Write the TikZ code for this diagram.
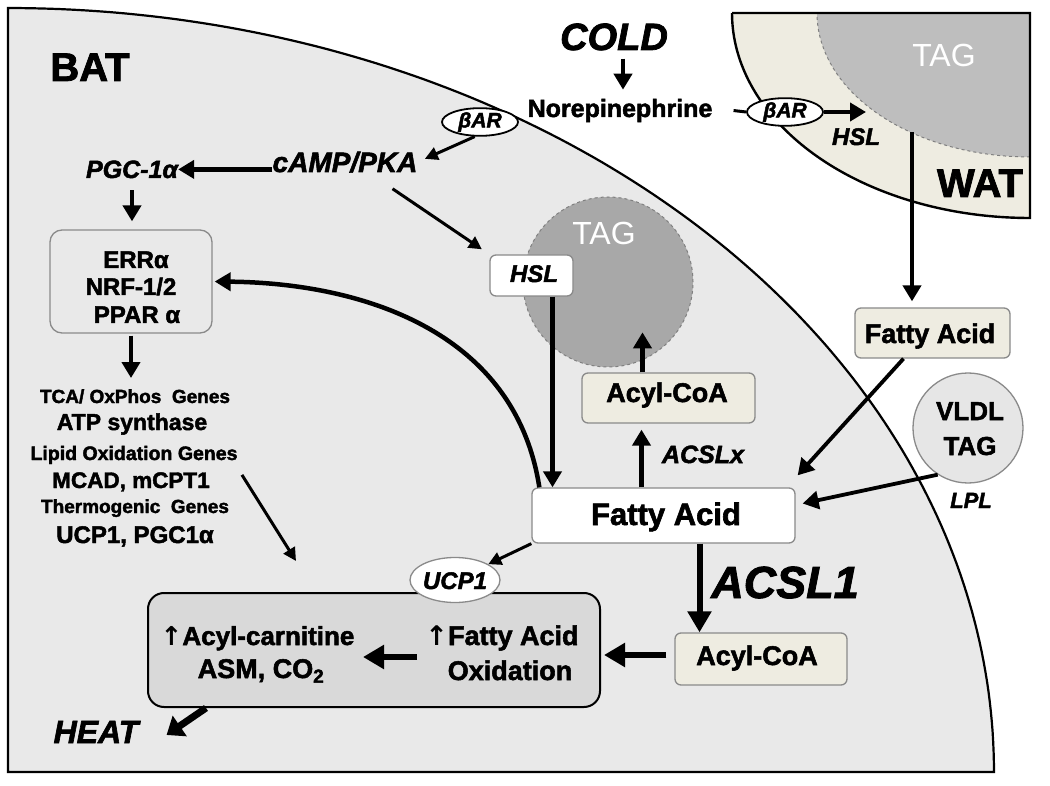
\documentclass[tikz,border=0pt]{standalone}
\usepackage{fontspec}
\setmainfont{Liberation Sans}[BoldFeatures={FakeBold=2},BoldItalicFeatures={FakeBold=2}]
\newfontfamily\dejavu{DejaVu Sans}
\usetikzlibrary{arrows.meta,shapes.geometric}
\newcommand\fsz[1]{\fontsize{#1}{#1}\selectfont}
\newcommand\uparr{{\dejavu\bfseries ↑}}
\definecolor{batbg}{HTML}{E9E9E9}
\definecolor{beige}{HTML}{EEECE1}
\definecolor{tagdark}{HTML}{A8A8A8}
\definecolor{taglight}{HTML}{BEBEBE}
\definecolor{boxedge}{HTML}{8A8A8A}
\definecolor{oxfill}{HTML}{D9D9D9}
\definecolor{vldlfill}{HTML}{E6E6E6}
\begin{document}
\begin{tikzpicture}[x=1pt,y=-1pt,
  lbl/.style={inner sep=0pt,anchor=base,font=\bfseries\fsz{24}},
  tagtxt/.style={inner sep=0pt,anchor=base,text=white,font=\fsz{32}},
  recep/.style={ellipse,draw=black,line width=1.8pt,fill=white,inner sep=0pt,minimum width=76pt,minimum height=26pt,font=\bfseries\itshape\fsz{21}},
  wbox/.style={rounded corners=6pt,draw=boxedge,line width=1.3pt,fill=white,inner sep=0pt},
  bbox/.style={rounded corners=6pt,draw=boxedge,line width=1.3pt,fill=beige,inner sep=0pt},
  gbox/.style={rounded corners=12pt,draw=boxedge,line width=1.3pt,fill=batbg,inner sep=0pt},
  oxbox/.style={rounded corners=16pt,draw=black,line width=2pt,fill=oxfill,inner sep=0pt},
  arrK/.style={line width=4.5pt,-{Triangle[length=16pt,width=18pt]}},
  arrB/.style={line width=6pt,-{Triangle[length=21pt,width=23pt]}},
  arrT/.style={line width=3pt,-{Triangle[length=13pt,width=13pt]}}
]
\useasboundingbox (0,0) rectangle (1050,786);
\fill[white] (0,0) rectangle (1050,786);

% BAT cell
\filldraw[fill=batbg,draw=black,line width=2.2pt] (8,772) -- (8,8) -- plot[domain=270:360,samples=120] ({8+986*cos(\x)},{772+764*sin(\x)}) -- cycle;

% WAT cell
\fill[beige] (732,13) -- (1030,13) -- (1030,218) -- plot[domain=90:180,samples=80] ({1030+298*cos(\x)},{13+205*sin(\x)}) -- cycle;
\fill[taglight] (817,13) -- (1030,13) -- (1030,157) -- plot[domain=90:180,samples=80] ({1030+213*cos(\x)},{13+144*sin(\x)}) -- cycle;
\draw[dashed,gray,line width=1pt] plot[domain=90:180,samples=80] ({1030+213*cos(\x)},{13+144*sin(\x)});
\draw[black,line width=2.4pt] (732,13) -- (1030,13) -- (1030,218) -- plot[domain=90:180,samples=80] ({1030+298*cos(\x)},{13+205*sin(\x)});

% labels top
\node[lbl,font=\bfseries\fsz{40}] (bat) at (90,81) {BAT};
\node[lbl,font=\bfseries\itshape\fsz{38}] (cold) at (614,50) {COLD};
\node[lbl,font=\bfseries\fsz{25}] (nor) at (620,117) {Norepinephrine};
\node[recep] (bar2) at (785,112) {βAR};
\coordinate (whsl) at (866,112);
\node[lbl,font=\bfseries\itshape\fsz{24}] (hslw) at (856,145) {HSL};
\node[tagtxt] (tagw) at (944,67) {TAG};
\node[lbl,font=\bfseries\fsz{40}] (wat) at (980,197) {WAT};
\node[recep] (bar1) at (480,122) {βAR};
\node[lbl,font=\bfseries\itshape\fsz{28}] (camp) at (345,172) {cAMP/PKA};
\node[lbl,font=\bfseries\itshape\fsz{25}] (pgc) at (132,178) {PGC-1α};

% ERR box
\node[gbox,minimum width=162pt,minimum height=103pt] (err) at (131,281.5) {};
\node[lbl] (err1) at (136,268) {ERRα};
\node[lbl] (err2) at (131,295) {NRF-1/2};
\node[lbl] (err3) at (137,323) {PPAR α};

% gene list
\node[lbl,font=\bfseries\fsz{19}] (g1) at (135,403) {TCA/ OxPhos~~Genes};
\node[lbl,font=\bfseries\fsz{23}] (g2) at (132,430) {ATP synthase};
\node[lbl,font=\bfseries\fsz{19.5}] (g3) at (134,460) {Lipid Oxidation Genes};
\node[lbl,font=\bfseries\fsz{22.5}] (g4) at (131,488) {MCAD, mCPT1};
\node[lbl,font=\bfseries\fsz{19}] (g5) at (135,513) {Thermogenic~~Genes};
\node[lbl,font=\bfseries\fsz{24}] (g6) at (135,543) {UCP1, PGC1α};

% lipid droplet
\node[circle,fill=tagdark,draw=gray,dashed,line width=1pt,minimum size=170pt,inner sep=0pt] (tagc) at (608,282) {};
\node[tagtxt] (tagb) at (604,245) {TAG};
\node[wbox,minimum width=83pt,minimum height=41pt] (hslb) at (531.5,275.5) {};
\node[lbl,font=\bfseries\itshape\fsz{24}] (hslt) at (534,282) {HSL};
\node[bbox,minimum width=173pt,minimum height=50pt] (acu) at (668.5,398) {};
\node[lbl,font=\bfseries\fsz{27}] (acut) at (667,402) {Acyl-CoA};
\node[lbl,font=\bfseries\itshape\fsz{25}] (acslx) at (703,463) {ACSLx};

% fatty acid
\node[wbox,minimum width=263pt,minimum height=55pt] (fa) at (663.5,515.5) {};
\node[lbl,font=\bfseries\fsz{31}] (fat) at (666,525) {Fatty Acid};
\node[bbox,minimum width=155pt,minimum height=50pt] (far) at (932.5,333) {};
\node[lbl,font=\bfseries\fsz{27}] (fart) at (930,343) {Fatty Acid};
\node[circle,fill=vldlfill,draw=boxedge,line width=1.3pt,minimum size=110pt,inner sep=0pt] (vldl) at (968,428) {};
\node[lbl,font=\bfseries\fsz{26}] (vl1) at (970,420) {VLDL};
\node[lbl,font=\bfseries\fsz{26}] (vl2) at (970,455) {TAG};
\node[lbl,font=\bfseries\itshape\fsz{22}] (lpl) at (971,508) {LPL};
\node[lbl,font=\bfseries\itshape\fsz{45}] (acsl1) at (785,598) {ACSL1};
\node[bbox,minimum width=172pt,minimum height=52pt] (acl) at (761,659) {};
\node[lbl,font=\bfseries\fsz{27}] (aclt) at (757,665) {Acyl-CoA};

% oxidation box
\node[oxbox,minimum width=452pt,minimum height=114pt] (ox) at (374,650) {};
\node[lbl,font=\bfseries\fsz{26}] (acyl) at (257.5,645) {\uparr Acyl-carnitine};
\node[lbl,font=\bfseries\fsz{27}] (asm) at (261,678) {ASM, CO\textsubscript{2}};
\node[lbl,font=\bfseries\fsz{27}] (fao) at (502,645) {\uparr Fatty Acid};
\node[lbl,font=\bfseries\fsz{27}] (oxi) at (510,680) {Oxidation};
\node[ellipse,fill=white,draw=boxedge,line width=1.3pt,minimum width=90pt,minimum height=45pt,inner sep=0pt] (ucp) at (455,580) {};
\node[lbl,font=\bfseries\itshape\fsz{24}] (ucpt) at (455,589) {UCP1};
\node[lbl,font=\bfseries\itshape\fsz{32}] (heat) at (96,743) {HEAT};
\coordinate (oxa) at (417,657);
\coordinate (watsrc) at (912,132);

% connectors
\draw[arrK,shorten <=8pt,shorten >=9pt] ([xshift=9pt]cold.south) -- ([xshift=3pt]nor.north);
\draw[line width=3pt] ([xshift=21pt]nor.east) -- (bar2.west);
\draw[arrK] (bar2.east) -- (whsl);
\draw[arrT,shorten >=8pt] (bar1.250) -- (camp.east);
\draw[arrK] (camp.west |- pgc.east) -- (pgc.east);
\draw[arrK,shorten <=12pt,shorten >=8pt] (pgc.south) -- (pgc.south |- err.north);
\draw[arrK,shorten <=2pt,shorten >=11pt] (err.south) -- (err.south |- g1.north);
\draw[arrT] ([shift={(32,-7)}]g4.east) -- ([shift={(149,-31)}]ox.north west);
\draw[arrT,shorten >=9pt] ([shift={(-25,16)}]camp.south east) -- (hslb.north west);
\draw[arrK] ([xshift=21pt]hslb.south) -- ([xshift=21pt]hslb.south |- fa.north);
\draw[arrK,shorten >=2pt] ([xshift=8pt]fa.north west) .. controls (515,330) and (360,283) .. (err.east);
\draw[arrK,shorten >=6pt] ([xshift=-22pt]fa.north) -- ([xshift=-22pt]fa.north |- acu.south);
\draw[arrK] ([xshift=-26pt]acu.north) -- ++(0,-40);
\draw[arrK,shorten >=6pt] (watsrc) -- (watsrc |- far.north);
\draw[arrK,line width=3.8pt] ([xshift=-29pt]far.south) -- ([shift={(2,-12)}]fa.north east);
\draw[arrK,line width=3.8pt] (vldl.237) -- ([shift={(7,-12)}]fa.east);
\draw[arrB] ([xshift=36pt]fa.south) -- ([xshift=36pt]fa.south |- acl.north);
\draw[arrB,shorten <=8pt,shorten >=3pt] ([yshift=4pt]acl.west) -- ([yshift=4pt]acl.west -| ox.east);
\draw[arrT] (fa.south west) -- (ucp);
\draw[arrB] (oxa) -- ++(-54,0);
\draw[line width=7pt,-{Triangle[length=16pt,width=24pt]}] ([xshift=59pt]ox.south west) -- ([shift={(28,3)}]heat.east);
\end{tikzpicture}
\end{document}
